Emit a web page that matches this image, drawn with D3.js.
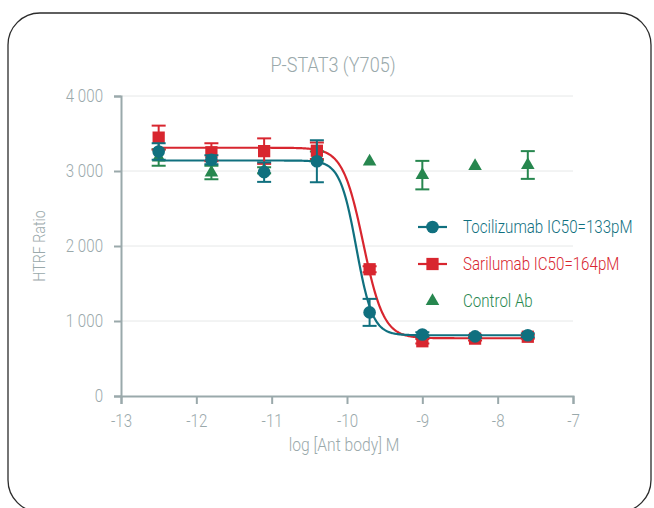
<!DOCTYPE html>
<html>
<head>
<meta charset="utf-8">
<script src="https://cdn.jsdelivr.net/npm/d3@7"></script>
<style>
  body { margin: 0; background: #fff; }
  svg { display: block; font-family: "Roboto", "Noto Sans", sans-serif; font-weight: 300; }
</style>
</head>
<body>
<div id="wrapper"></div>
<script>
// log concentration of antibody (M)
const doses = [-12.5, -11.8, -11.1, -10.4, -9.7, -9.0, -8.3, -7.6];

const tociValues = [3260, 3150, 2985, 3130, 1115, 820, 795, 810];
const tociErrors = [110, 60, 130, 280, 180, 30, 20, 25];

const sariValues = [3445, 3250, 3265, 3270, 1690, 730, 765, 790];
const sariErrors = [160, 120, 170, 110, 40, 30, 25, 25];

const ctrlValues = [3180, 2980, 3010, 3200, 3125, 2945, 3065, 3080];
const ctrlErrors = [110, 90, 40, 60, 0, 190, 0, 185];

// 4PL fit parameters: top, bottom, logIC50, hill
const tociFit = [3140, 810, -9.876, 4];
const sariFit = [3310, 770, -9.785, 3.2];

const xTicks = [-13, -12, -11, -10, -9, -8, -7];
const yTicks = [0, 1000, 2000, 3000, 4000];

const series = [
    { name: "Control Ab", values: ctrlValues, errors: ctrlErrors, color: "#27874f", shape: "triangle", fit: null },
    { name: "Sarilumab IC50=164pM", values: sariValues, errors: sariErrors, color: "#d8262f", shape: "square", fit: sariFit },
    { name: "Tocilizumab IC50=133pM", values: tociValues, errors: tociErrors, color: "#10707f", shape: "circle", fit: tociFit }
];

// squeeze text horizontally around its anchor (no condensed font installed)
function condense(sel, k) {
    sel.each(function () {
        const t = d3.select(this);
        const x = +(t.attr("x") || 0);
        const prev = t.attr("transform") || "";
        t.attr("transform", `${prev} translate(${x},0) scale(${k},1) translate(${-x},0)`);
    });
}

function drawChart() {
    const dimensions = {
        width: 654,
        height: 508,
        margin: { top: 96, right: 81, bottom: 112, left: 121 }
    };
    dimensions.boundedWidth = dimensions.width - dimensions.margin.left - dimensions.margin.right;
    dimensions.boundedHeight = dimensions.height - dimensions.margin.top - dimensions.margin.bottom;

    const axisColor = "#9aa9ab";

    const wrapper = d3.select("#wrapper")
        .append("svg")
        .attr("width", dimensions.width)
        .attr("height", dimensions.height);

    // rounded frame
    wrapper.append("rect")
        .attr("x", 8)
        .attr("y", 13)
        .attr("width", 643)
        .attr("height", 499)
        .attr("rx", 32)
        .attr("fill", "none")
        .attr("stroke", "#2b2b2b")
        .attr("stroke-width", 1.3);

    const bounds = wrapper.append("g")
        .attr("transform", `translate(${dimensions.margin.left}, ${dimensions.margin.top})`);

    const xScale = d3.scaleLinear()
        .domain([-13, -7])
        .range([0, dimensions.boundedWidth]);

    const yScale = d3.scaleLinear()
        .domain([0, 4000])
        .range([dimensions.boundedHeight, 0]);

    // gridlines
    bounds.selectAll(".grid")
        .data(yTicks.filter(d => d > 0))
        .enter()
        .append("line")
        .attr("x1", 0)
        .attr("x2", dimensions.boundedWidth)
        .attr("y1", d => yScale(d))
        .attr("y2", d => yScale(d))
        .attr("stroke", "#e6e8e8")
        .attr("stroke-width", 1);

    // axes
    const fmt = d3.formatLocale({ decimal: ".", thousands: " ", grouping: [3], currency: ["", ""] }).format(",");

    const yAxis = bounds.append("g")
        .call(d3.axisLeft(yScale).tickValues(yTicks).tickFormat(fmt).tickSize(7).tickPadding(11));
    const xAxis = bounds.append("g")
        .attr("transform", `translate(0, ${dimensions.boundedHeight})`)
        .call(d3.axisBottom(xScale).tickValues(xTicks).tickFormat(d => String(d)).tickSize(8).tickPadding(10));

    [xAxis, yAxis].forEach(ax => {
        ax.attr("font-family", null);
        ax.selectAll("path, line").attr("stroke", axisColor).attr("stroke-width", 2);
        ax.selectAll("text").attr("fill", axisColor).attr("font-size", 18).call(condense, 0.84);
    });

    // fitted curves
    const fourPL = (p, x) => p[1] + (p[0] - p[1]) / (1 + Math.pow(10, p[3] * (x - p[2])));
    const curveX = d3.range(-12.5, -7.6 + 0.0001, 0.01);

    series.filter(s => s.fit).forEach(s => {
        bounds.append("path")
            .datum(curveX)
            .attr("d", d3.line().x(d => xScale(d)).y(d => yScale(fourPL(s.fit, d))))
            .attr("fill", "none")
            .attr("stroke", s.color)
            .attr("stroke-width", 2.2);
    });

    const symbolFor = shape => {
        if (shape === "circle") return d3.symbol().type(d3.symbolCircle).size(125);
        if (shape === "square") return d3.symbol().type(d3.symbolSquare).size(150);
        return d3.symbol().type(d3.symbolTriangle).size(80);
    };

    // points and error bars
    series.forEach(s => {
        const g = bounds.append("g");
        const pts = doses.map((d, i) => ({ x: d, y: s.values[i], e: s.errors[i] }));

        const bars = g.selectAll(".err")
            .data(pts.filter(p => p.e > 0))
            .enter()
            .append("g")
            .attr("stroke", s.color)
            .attr("stroke-width", 2);
        bars.append("line")
            .attr("x1", p => xScale(p.x)).attr("x2", p => xScale(p.x))
            .attr("y1", p => yScale(p.y - p.e)).attr("y2", p => yScale(p.y + p.e));
        bars.append("line")
            .attr("x1", p => xScale(p.x) - 7).attr("x2", p => xScale(p.x) + 7)
            .attr("y1", p => yScale(p.y + p.e)).attr("y2", p => yScale(p.y + p.e));
        bars.append("line")
            .attr("x1", p => xScale(p.x) - 7).attr("x2", p => xScale(p.x) + 7)
            .attr("y1", p => yScale(p.y - p.e)).attr("y2", p => yScale(p.y - p.e));

        g.selectAll(".pt")
            .data(pts)
            .enter()
            .append("path")
            .attr("d", symbolFor(s.shape))
            .attr("transform", p => `translate(${xScale(p.x)}, ${yScale(p.y)})`)
            .attr("fill", s.color);
    });

    // legend
    const legendOrder = [series[2], series[1], series[0]];
    const legend = wrapper.append("g").attr("transform", "translate(418, 227)");
    legendOrder.forEach((s, i) => {
        const row = legend.append("g").attr("transform", `translate(0, ${i * 37})`);
        if (s.shape !== "triangle") {
            row.append("line")
                .attr("x1", 0).attr("x2", 29).attr("y1", 0).attr("y2", 0)
                .attr("stroke", s.color).attr("stroke-width", 2.2);
        }
        row.append("path")
            .attr("d", symbolFor(s.shape))
            .attr("transform", "translate(14.5, 0)")
            .attr("fill", s.color);
        row.append("text")
            .attr("x", 45)
            .attr("y", 0)
            .attr("dy", "0.35em")
            .attr("font-size", 18)
            .attr("fill", s.color)
            .text(s.name)
            .call(condense, 0.84);
    });

    // title and axis labels
    wrapper.append("text")
        .attr("x", 333)
        .attr("y", 72)
        .attr("text-anchor", "middle")
        .attr("font-size", 21)
        .attr("fill", axisColor)
        .text("P-STAT3 (Y705)")
        .call(condense, 0.86);

    wrapper.append("text")
        .attr("x", 344)
        .attr("y", 451)
        .attr("text-anchor", "middle")
        .attr("font-size", 18)
        .attr("fill", axisColor)
        .text("log [Ant body] M")
        .call(condense, 0.87);

    wrapper.append("text")
        .attr("transform", "translate(45, 246) rotate(-90)")
        .attr("text-anchor", "middle")
        .attr("font-size", 17)
        .attr("fill", axisColor)
        .text("HTRF Ratio")
        .call(condense, 0.84);
}

drawChart();
</script>
</body>
</html>
